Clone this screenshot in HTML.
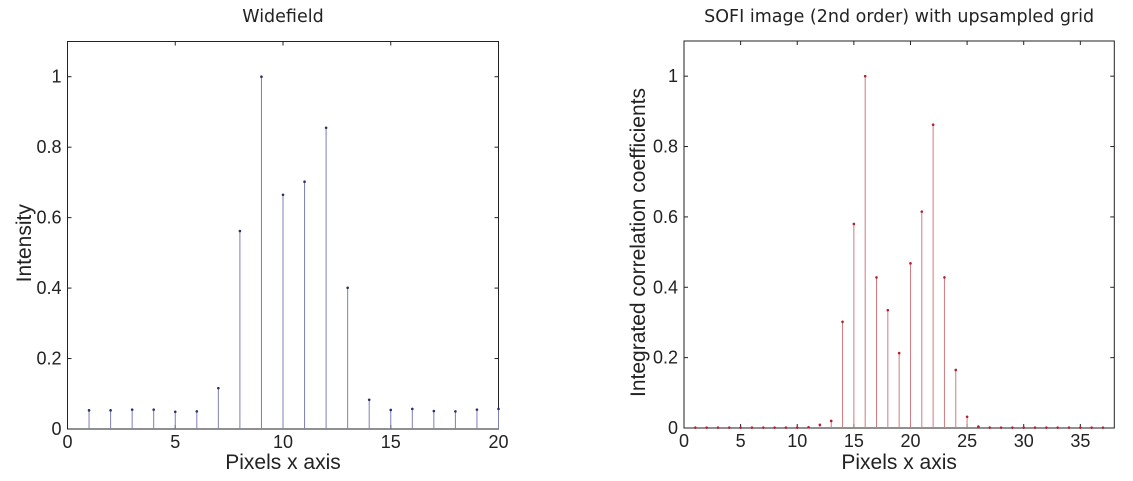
<!DOCTYPE html>
<html><head><meta charset="utf-8"><style>
body{margin:0;background:#fff;width:1133px;height:476px;overflow:hidden}
svg{font-family:"Liberation Sans",sans-serif}
</style></head><body>
<svg id="c" width="1133" height="476"></svg>
<script>
const wfX=[1,2,3,4,5,6,7,8,9,10,11,12,13,14,15,16,17,18,19,20];
const wfY=[0.053,0.053,0.055,0.055,0.049,0.05,0.116,0.562,1.0,0.665,0.702,0.855,0.401,0.083,0.054,0.057,0.051,0.05,0.055,0.057];
const sofiX=[1,2,3,4,5,6,7,8,9,10,11,12,13,14,15,16,17,18,19,20,21,22,23,24,25,26,27,28,29,30,31,32,33,34,35,36,37];
const sofiY=[0.001,0.001,0.001,0.001,0.001,0.001,0.001,0.001,0.001,0.001,0.002,0.009,0.02,0.302,0.58,1.0,0.428,0.335,0.213,0.468,0.615,0.862,0.428,0.165,0.032,0.004,0.001,0.001,0.001,0.001,0.001,0.001,0.001,0.001,0.001,0.001,0.001];
const wfXTicks=[0,5,10,15,20];
const sofiXTicks=[0,5,10,15,20,25,30,35];
const yTicks=[0,0.2,0.4,0.6,0.8,1];
const NS='http://www.w3.org/2000/svg';
const svg=document.getElementById('c');
function mk(tag,attrs,parent,text){const e=document.createElementNS(NS,tag);for(const k in attrs)e.setAttribute(k,attrs[k]);if(text!==undefined)e.textContent=text;(parent||svg).appendChild(e);return e;}
function panel(cfg){
  const g=mk('g',{});
  
  
  const sx=v=>cfg.x0+(v-cfg.xmin)/(cfg.xmax-cfg.xmin)*(cfg.x1-cfg.x0);
  const sy=v=>cfg.y1-(v-0)/(1.1)*(cfg.y1-cfg.y0);
  const box=mk('rect',{x:cfg.x0,y:cfg.y0,width:cfg.x1-cfg.x0,height:cfg.y1-cfg.y0,fill:'none',stroke:'#222','stroke-width':1},g);
  
  cfg.xt.forEach(t=>{const x=sx(t);
    mk('line',{x1:x,x2:x,y1:cfg.y1,y2:cfg.y1-4,stroke:'#222'},g);
    mk('line',{x1:x,x2:x,y1:cfg.y0,y2:cfg.y0+4,stroke:'#222'},g);
    const l=mk('text',{x:x,y:cfg.y1+19,'font-size':18,'text-anchor':'middle',fill:'#222'},g,String(t));
    });
  yTicks.forEach(t=>{const y=sy(t);
    mk('line',{x1:cfg.x0,x2:cfg.x0+4,y1:y,y2:y,stroke:'#222'},g);
    mk('line',{x1:cfg.x1,x2:cfg.x1-4,y1:y,y2:y,stroke:'#222'},g);
    const l=mk('text',{x:cfg.x0-6,y:y+6,'font-size':18,'text-anchor':'end',fill:'#222'},g,String(t));
    });
  cfg.xs.forEach((xv,i)=>{const x=sx(xv),y=sy(cfg.ys[i]);
    const s=mk('line',{x1:x,x2:x,y1:cfg.y1,y2:y,stroke:cfg.color,'stroke-width':1},g);
    
    const d=mk('circle',{cx:x,cy:y,r:1.3,fill:cfg.dot},g);
    });
  const t=mk('text',{x:(cfg.x0+cfg.x1)/2,y:22,'text-anchor':'middle',fill:'#222',style:'font-family:"DejaVu Sans",sans-serif','font-size':17.5},g,cfg.title);
  
  const xl=mk('text',{x:(cfg.x0+cfg.x1)/2,y:469,'font-size':21,'text-anchor':'middle',fill:'#222'},g,'Pixels x axis');
  
  const yl=mk('text',{x:0,y:0,'font-size':cfg.ylfs,'text-anchor':'middle',fill:'#222',transform:`translate(${cfg.ylx},${(cfg.y0+cfg.y1)/2+8}) rotate(-90)`},g,cfg.ylabel);
  
}
panel({name:'widefield-chart',x0:67.5,x1:498.5,y0:41.5,y1:429,xmin:0,xmax:20,xt:wfXTicks,xs:wfX,ys:wfY,color:'#7c7fb8',dot:'#2a2f6a',title:'Widefield',ylabel:'Intensity',ylx:31,ylfs:21});
panel({name:'sofi-chart',x0:684,x1:1114.3,y0:41,y1:428,xmin:0,xmax:38,xt:sofiXTicks,xs:sofiX,ys:sofiY,color:'#d27a7e',dot:'#b02030',title:'SOFI image (2nd order) with upsampled grid',ylabel:'Integrated correlation coefficients',ylx:645,ylfs:21});
</script>
</body></html>
